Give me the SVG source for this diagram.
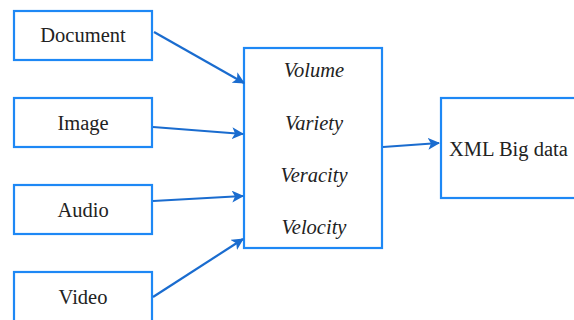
<svg xmlns="http://www.w3.org/2000/svg" width="574" height="320" viewBox="0 0 574 320">
<style>
.box{fill:#fff;stroke:#1e88f5;stroke-width:2.2}
.t{font-family:"Liberation Serif","Times New Roman",serif;font-size:20.5px;fill:#222;text-anchor:middle}
.i{font-style:italic}
.c{stroke:#1a6ccf;stroke-width:2.2;fill:none;marker-end:url(#ah)}
</style>
<defs>
<marker id="ah" markerWidth="12" markerHeight="12" refX="11" refY="6" orient="auto" markerUnits="userSpaceOnUse" viewBox="0 0 12 12">
<path d="M0,0 L12,6 L0,12 L3,6 Z" fill="#1a6ccf"/>
</marker>
</defs>
<rect width="574" height="320" fill="#fff"/>
<g id="document"><rect class="box" x="14" y="11" width="138" height="49"/><text class="t" x="83" y="42">Document</text></g>
<g id="image"><rect class="box" x="14" y="98" width="138" height="49"/><text class="t" x="83" y="130">Image</text></g>
<g id="audio"><rect class="box" x="14" y="185" width="138" height="49"/><text class="t" x="83" y="217">Audio</text></g>
<g id="video"><rect class="box" x="14" y="272" width="138" height="60"/><text class="t" x="83" y="304">Video</text></g>
<g id="vs"><rect class="box" x="244" y="48" width="138" height="200"/>
<text class="t i" x="314" y="77">Volume</text>
<text class="t i" x="314" y="130">Variety</text>
<text class="t i" x="314" y="182">Veracity</text>
<text class="t i" x="314" y="234">Velocity</text>
</g>
<g id="xml"><rect class="box" x="441" y="98" width="140" height="100"/><text class="t" x="449" y="156" style="text-anchor:start">XML Big data</text></g>
<g id="connectors">
<line class="c" x1="154" y1="32" x2="244" y2="83"/>
<line class="c" x1="153" y1="127" x2="243" y2="134"/>
<line class="c" x1="153" y1="201" x2="243" y2="196"/>
<line class="c" x1="153" y1="297" x2="243" y2="239"/>
<line class="c" x1="383" y1="147" x2="439" y2="143"/>
</g>
</svg>
